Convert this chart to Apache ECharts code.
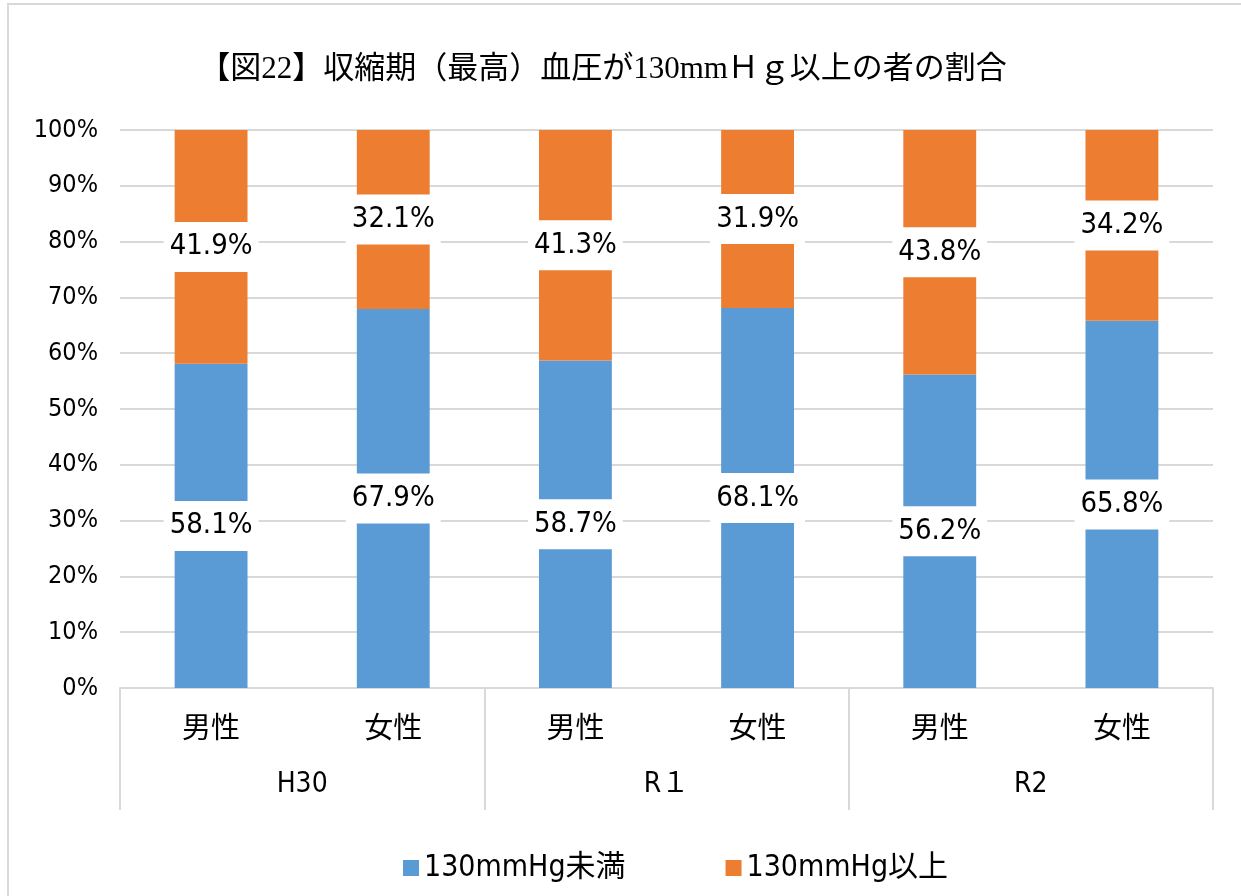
<!DOCTYPE html>
<html>
<head>
<meta charset="utf-8">
<script src="https://cdn.jsdelivr.net/npm/echarts@6/dist/echarts.min.js"></script>
<style>
  html, body { margin: 0; padding: 0; background: #fff; }
  #main { width: 1241px; height: 896px; }
</style>
</head>
<body>
<div id="main"></div>
<script>
// データ
var genders = ['男性', '女性', '男性', '女性', '男性', '女性'];
var years = ['H30', 'R１', 'R2'];
var under130 = [58.1, 67.9, 58.7, 68.1, 56.2, 65.8];
var over130 = [41.9, 32.1, 41.3, 31.9, 43.8, 34.2];
var yTicks = [0, 10, 20, 30, 40, 50, 60, 70, 80, 90, 100];

var narrow = "'Liberation Sans Narrow', 'DejaVu Sans Condensed', 'Noto Sans CJK JP', sans-serif";
var gridColor = '#d9d9d9';

var chart = echarts.init(document.getElementById('main'));

function barLabel() {
  return {
    show: true,
    position: 'inside',
    formatter: function (p) { return p.value.toFixed(1) + '%'; },
    color: '#000',
    fontFamily: narrow,
    fontSize: 29,
    lineHeight: 34,
    backgroundColor: '#fff',
    padding: [8, 6, 8, 6]
  };
}

var option = {
  backgroundColor: '#fff',
  title: {
    text: '【図22】収縮期（最高）血圧が130mmＨｇ以上の者の割合',
    left: 598,
    textAlign: 'center',
    top: 49,
    textStyle: {
      fontFamily: "'Liberation Serif', 'Noto Sans CJK JP', serif",
      fontSize: 31,
      fontWeight: 'normal',
      color: '#000'
    }
  },
  graphic: [{
    type: 'rect',
    shape: { x: 8, y: 4, width: 1300, height: 1000 },
    style: { fill: 'none', stroke: gridColor, lineWidth: 2 },
    silent: true
  }],
  legend: {
    left: 398,
    top: 848,
    itemWidth: 16,
    itemHeight: 16,
    itemGap: 100,
    icon: 'rect',
    textStyle: { fontFamily: narrow, fontSize: 30, color: '#000' },
    data: ['130mmHg未満', '130mmHg以上']
  },
  grid: { left: 120, right: 28, top: 130, bottom: 208, containLabel: false },
  xAxis: [{
    type: 'category',
    data: genders,
    position: 'bottom',
    axisLine: { lineStyle: { color: gridColor, width: 2 } },
    axisTick: { show: false },
    axisLabel: { color: '#000', fontSize: 29, margin: 28, fontFamily: narrow }
  }, {
    type: 'category',
    data: years,
    position: 'bottom',
    axisLine: { show: false },
    axisTick: { show: true, length: 122, lineStyle: { color: gridColor, width: 2 } },
    axisLabel: { color: '#000', fontSize: 28, margin: 83, fontFamily: narrow }
  }],
  yAxis: {
    type: 'value',
    min: yTicks[0],
    max: yTicks[yTicks.length - 1],
    interval: 10,
    axisLine: { show: false },
    axisTick: { show: false },
    splitLine: { lineStyle: { color: gridColor, width: 2 } },
    axisLabel: { formatter: '{value}%', color: '#000', fontSize: 25, margin: 22, fontFamily: narrow }
  },
  series: [{
    name: '130mmHg未満',
    type: 'bar',
    stack: 'total',
    xAxisIndex: 0,
    barWidth: '40%',
    itemStyle: { color: '#5B9BD5' },
    label: barLabel(),
    data: under130
  }, {
    name: '130mmHg以上',
    type: 'bar',
    stack: 'total',
    xAxisIndex: 0,
    barWidth: '40%',
    itemStyle: { color: '#ED7D31' },
    label: barLabel(),
    data: over130
  }]
};
chart.setOption(option);
</script>
</body>
</html>
